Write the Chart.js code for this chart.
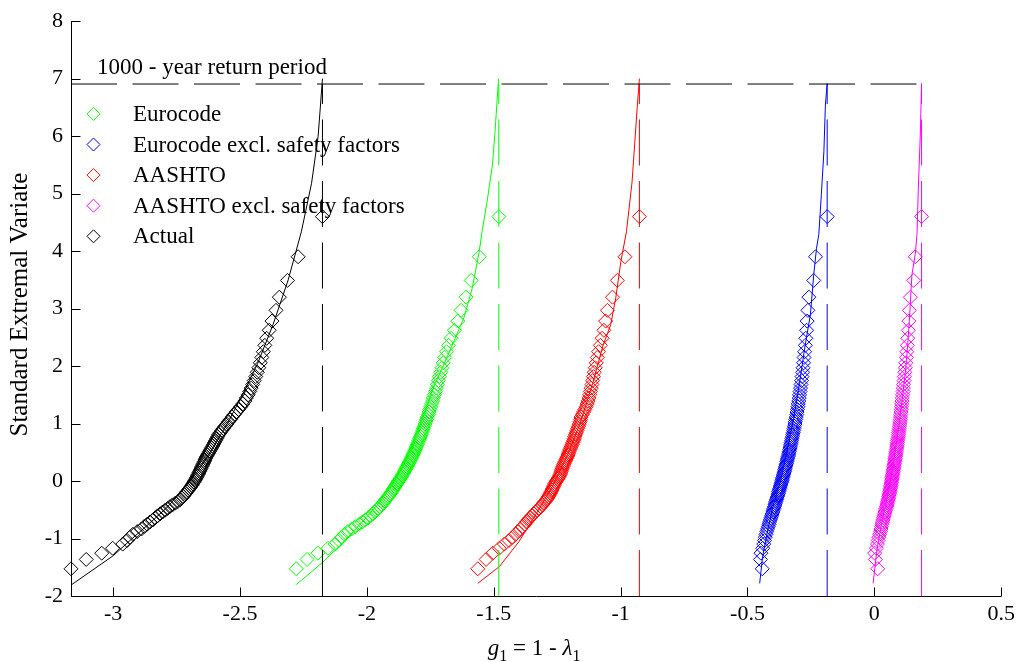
<!DOCTYPE html>
<html>
<head>
<meta charset="utf-8">
<script src="https://cdn.jsdelivr.net/npm/chart.js@4.4.1/dist/chart.umd.min.js"></script>
<style>
  body { margin: 0; background: #fff; }
  #wrap { width: 1020px; height: 662px; }
</style>
</head>
<body>
<div id="wrap"><canvas id="chart" width="1020" height="662"></canvas></div>
<script>
// plotting positions (standard extremal variate) of the 99 ranked values
var reducedVariate = [
  -1.527, -1.364, -1.255, -1.169, -1.097, -1.034, -0.978, -0.927, -0.879, -0.834,
  -0.792, -0.752, -0.713, -0.676, -0.640, -0.606, -0.572, -0.539, -0.507, -0.476,
  -0.445, -0.415, -0.385, -0.356, -0.327, -0.298, -0.270, -0.241, -0.213, -0.186,
  -0.158, -0.131, -0.103, -0.076, -0.049, -0.021, 0.006, 0.033, 0.060, 0.087,
  0.115, 0.142, 0.170, 0.197, 0.225, 0.253, 0.281, 0.309, 0.338, 0.367,
  0.396, 0.425, 0.454, 0.484, 0.514, 0.545, 0.576, 0.607, 0.639, 0.672,
  0.705, 0.738, 0.772, 0.807, 0.842, 0.878, 0.915, 0.953, 0.991, 1.031,
  1.071, 1.113, 1.156, 1.200, 1.246, 1.293, 1.342, 1.392, 1.445, 1.500,
  1.557, 1.617, 1.680, 1.747, 1.817, 1.892, 1.971, 2.057, 2.150, 2.250,
  2.361, 2.484, 2.623, 2.783, 2.970, 3.199, 3.490, 3.902, 4.600
];

var eurocodeX = [
  -2.278, -2.236, -2.193, -2.153, -2.125, -2.110, -2.100, -2.088, -2.075, -2.060,
  -2.045, -2.030, -2.018, -2.006, -1.995, -1.985, -1.977, -1.969, -1.962, -1.955,
  -1.948, -1.942, -1.936, -1.931, -1.926, -1.921, -1.916, -1.911, -1.906, -1.902,
  -1.898, -1.894, -1.890, -1.886, -1.882, -1.878, -1.874, -1.870, -1.866, -1.862,
  -1.858, -1.855, -1.852, -1.848, -1.845, -1.842, -1.838, -1.835, -1.831, -1.828,
  -1.825, -1.822, -1.819, -1.816, -1.813, -1.810, -1.807, -1.804, -1.801, -1.798,
  -1.795, -1.792, -1.789, -1.786, -1.783, -1.780, -1.777, -1.774, -1.771, -1.768,
  -1.765, -1.762, -1.758, -1.755, -1.752, -1.748, -1.745, -1.741, -1.738, -1.734,
  -1.730, -1.726, -1.722, -1.718, -1.714, -1.709, -1.704, -1.699, -1.693, -1.686,
  -1.678, -1.668, -1.655, -1.642, -1.629, -1.609, -1.589, -1.557, -1.480
];

var eurocodeExclX = [
  -0.442, -0.449, -0.447, -0.440, -0.436, -0.433, -0.430, -0.427, -0.424, -0.421,
  -0.418, -0.415, -0.413, -0.410, -0.408, -0.405, -0.403, -0.400, -0.398, -0.396,
  -0.394, -0.392, -0.390, -0.388, -0.386, -0.384, -0.382, -0.380, -0.378, -0.377,
  -0.375, -0.373, -0.371, -0.370, -0.368, -0.366, -0.364, -0.363, -0.361, -0.359,
  -0.358, -0.356, -0.354, -0.353, -0.351, -0.350, -0.348, -0.346, -0.345, -0.343,
  -0.342, -0.340, -0.338, -0.337, -0.335, -0.334, -0.332, -0.331, -0.329, -0.328,
  -0.326, -0.325, -0.323, -0.322, -0.320, -0.318, -0.317, -0.315, -0.313, -0.312,
  -0.310, -0.308, -0.306, -0.305, -0.303, -0.301, -0.300, -0.298, -0.296, -0.295,
  -0.293, -0.291, -0.289, -0.287, -0.285, -0.283, -0.281, -0.279, -0.277, -0.275,
  -0.272, -0.270, -0.267, -0.265, -0.262, -0.258, -0.239, -0.232, -0.186
];

var aashtoX = [
  -1.563, -1.530, -1.504, -1.478, -1.458, -1.440, -1.426, -1.414, -1.404, -1.395,
  -1.386, -1.378, -1.371, -1.364, -1.357, -1.350, -1.342, -1.335, -1.328, -1.321,
  -1.314, -1.309, -1.304, -1.298, -1.292, -1.288, -1.284, -1.280, -1.277, -1.274,
  -1.271, -1.268, -1.265, -1.262, -1.260, -1.256, -1.252, -1.248, -1.244, -1.241,
  -1.238, -1.236, -1.234, -1.232, -1.230, -1.227, -1.225, -1.222, -1.219, -1.216,
  -1.213, -1.210, -1.207, -1.205, -1.203, -1.200, -1.197, -1.194, -1.191, -1.188,
  -1.185, -1.183, -1.181, -1.178, -1.175, -1.172, -1.169, -1.166, -1.163, -1.160,
  -1.158, -1.156, -1.151, -1.146, -1.141, -1.136, -1.132, -1.128, -1.125, -1.122,
  -1.119, -1.116, -1.113, -1.110, -1.107, -1.104, -1.100, -1.096, -1.092, -1.087,
  -1.080, -1.073, -1.066, -1.059, -1.052, -1.032, -1.013, -0.983, -0.926
];

var aashtoExclX = [
  0.013, 0.004, 0.001, 0.008, 0.012, 0.015, 0.018, 0.021, 0.024, 0.026,
  0.028, 0.030, 0.032, 0.034, 0.036, 0.038, 0.040, 0.042, 0.044, 0.046,
  0.048, 0.050, 0.051, 0.053, 0.054, 0.056, 0.057, 0.058, 0.060, 0.061,
  0.062, 0.063, 0.064, 0.065, 0.066, 0.067, 0.068, 0.069, 0.070, 0.071,
  0.072, 0.073, 0.074, 0.075, 0.076, 0.077, 0.078, 0.079, 0.080, 0.081,
  0.082, 0.083, 0.084, 0.085, 0.086, 0.087, 0.088, 0.089, 0.090, 0.091,
  0.092, 0.093, 0.094, 0.095, 0.096, 0.097, 0.098, 0.099, 0.100, 0.101,
  0.102, 0.103, 0.104, 0.105, 0.106, 0.107, 0.108, 0.109, 0.110, 0.111,
  0.113, 0.114, 0.115, 0.117, 0.118, 0.120, 0.122, 0.124, 0.126, 0.128,
  0.130, 0.132, 0.134, 0.136, 0.138, 0.142, 0.155, 0.161, 0.186
];

var actualX = [
  -3.166, -3.106, -3.045, -3.002, -2.962, -2.945, -2.934, -2.922, -2.905, -2.888,
  -2.878, -2.866, -2.855, -2.843, -2.834, -2.825, -2.815, -2.805, -2.795, -2.785,
  -2.776, -2.766, -2.755, -2.745, -2.736, -2.729, -2.724, -2.719, -2.714, -2.709,
  -2.704, -2.699, -2.694, -2.690, -2.686, -2.682, -2.678, -2.675, -2.671, -2.668,
  -2.665, -2.662, -2.659, -2.656, -2.653, -2.650, -2.647, -2.644, -2.641, -2.638,
  -2.635, -2.632, -2.628, -2.624, -2.620, -2.616, -2.612, -2.608, -2.604, -2.600,
  -2.596, -2.592, -2.588, -2.584, -2.578, -2.572, -2.566, -2.559, -2.552, -2.545,
  -2.538, -2.531, -2.523, -2.515, -2.506, -2.497, -2.489, -2.481, -2.475, -2.468,
  -2.462, -2.456, -2.450, -2.444, -2.438, -2.432, -2.426, -2.420, -2.414, -2.408,
  -2.402, -2.395, -2.385, -2.374, -2.358, -2.345, -2.313, -2.271, -2.175
];

// fitted curves, [g1, variate]
var fitEurocode = [[-2.278,-1.80],[-2.173,-1.41],[-2.09,-1.05],[-2.02,-0.72],[-1.96,-0.42],[-1.905,-0.10],
  [-1.86,0.25],[-1.82,0.65],[-1.78,1.10],[-1.74,1.60],[-1.70,2.00],[-1.655,2.45],[-1.617,2.85],
  [-1.585,3.35],[-1.557,4.00],[-1.546,4.34],[-1.525,4.90],[-1.505,5.50],[-1.495,6.08],[-1.481,7.00]];
var fitEurocodeExcl = [[-0.452,-1.78],[-0.44,-1.30],[-0.42,-0.85],[-0.40,-0.45],[-0.37,0.00],[-0.345,0.50],
  [-0.318,1.10],[-0.295,1.70],[-0.275,2.30],[-0.252,2.90],[-0.239,3.59],[-0.228,4.05],[-0.219,4.29],
  [-0.209,4.98],[-0.199,5.73],[-0.193,6.54],[-0.186,6.92]];
var fitAashto = [[-1.563,-1.78],[-1.478,-1.49],[-1.40,-1.05],[-1.33,-0.55],[-1.27,-0.10],[-1.21,0.45],
  [-1.16,1.00],[-1.11,1.70],[-1.07,2.35],[-1.039,2.72],[-1.019,3.19],[-0.999,3.82],[-0.977,4.34],
  [-0.955,5.20],[-0.934,6.54],[-0.926,7.00]];
var fitAashtoExcl = [[-0.005,-1.78],[0.010,-1.20],[0.030,-0.70],[0.055,-0.20],[0.075,0.30],[0.095,0.90],
  [0.112,1.50],[0.127,2.10],[0.138,2.80],[0.148,3.59],[0.161,3.94],[0.168,4.29],[0.174,5.20],
  [0.181,6.02],[0.186,6.92]];
var fitActual = [[-3.166,-1.81],[-3.0,-1.30],[-2.93,-1.02],[-2.86,-0.75],[-2.79,-0.47],[-2.73,-0.18],
  [-2.67,0.15],[-2.61,0.55],[-2.55,1.00],[-2.49,1.50],[-2.43,2.05],[-2.37,2.72],[-2.31,3.50],
  [-2.258,4.34],[-2.218,5.18],[-2.192,6.00],[-2.175,7.00]];

var seriesNames = ['Eurocode', 'Eurocode excl. safety factors', 'AASHTO', 'AASHTO excl. safety factors', 'Actual'];
var seriesColors = ['#00ff00', '#0000ff', '#ff0000', '#ff00ff', '#000000'];
var seriesX = [eurocodeX, eurocodeExclX, aashtoX, aashtoExclX, actualX];
var seriesFit = [fitEurocode, fitEurocodeExcl, fitAashto, fitAashtoExcl, fitActual];
// g1 at the 1000-year return level for each series
var designX = [-1.480, -0.186, -0.926, 0.186, -2.175];
var returnLevel = 6.907;
var returnLabel = '1000 - year return period';

var xMin = -3.166, xMax = 0.5, yMin = -2, yMax = 8;
var xTicks = [-3, -2.5, -2, -1.5, -1, -0.5, 0, 0.5];
var yTicks = [-2, -1, 0, 1, 2, 3, 4, 5, 6, 7, 8];

var serif = "'Liberation Serif', 'Times New Roman', serif";

var datasets = [];
// return period markers: horizontal line then vertical lines (drawn bottom to top)
datasets.push({
    data: [{x: xMin, y: returnLevel}, {x: designX[3], y: returnLevel}],
    showLine: true, pointRadius: 0, borderColor: '#000', borderWidth: 1, borderDash: [46, 15.5]
});
for (var i = 0; i < seriesNames.length; i++) {
    datasets.push({
        data: [{x: designX[i], y: yMin}, {x: designX[i], y: returnLevel}],
        showLine: true, pointRadius: 0, borderColor: seriesColors[i], borderWidth: 1, borderDash: [46, 15.5]
    });
}
for (var i = 0; i < seriesNames.length; i++) {
    var pts = [];
    for (var k = 0; k < seriesX[i].length; k++) pts.push({x: seriesX[i][k], y: reducedVariate[k]});
    datasets.push({
        label: seriesNames[i],
        data: pts,
        showLine: false,
        pointStyle: 'rectRot',
        pointRadius: 7,
        pointBorderWidth: 1,
        pointBorderColor: seriesColors[i],
        pointBackgroundColor: 'rgba(0,0,0,0)',
        clip: false
    });
    datasets.push({
        data: seriesFit[i].map(function(p){ return {x: p[0], y: p[1]}; }),
        showLine: true, pointRadius: 0, borderColor: seriesColors[i], borderWidth: 1, tension: 0
    });
}

// axes lines, inward ticks, legend, labels
var decor = {
    id: 'decor',
    afterDraw: function(chart) {
        var ctx = chart.ctx, a = chart.chartArea, xs = chart.scales.x, ys = chart.scales.y;
        ctx.save();
        ctx.strokeStyle = '#000';
        ctx.lineWidth = 1;
        ctx.beginPath();
        var lx = Math.round(a.left) + 0.5, by = Math.round(a.bottom) + 0.5;
        ctx.moveTo(lx, a.top);
        ctx.lineTo(lx, by);
        ctx.lineTo(a.right, by);
        yTicks.forEach(function(v){
            var p = Math.round(ys.getPixelForValue(v)) + 0.5;
            ctx.moveTo(lx, p); ctx.lineTo(lx + 9, p);
        });
        xTicks.forEach(function(v){
            var p = Math.round(xs.getPixelForValue(v)) + 0.5;
            ctx.moveTo(p, by); ctx.lineTo(p, by - 9);
        });
        ctx.stroke();

        // legend
        ctx.font = '23px ' + serif;
        ctx.fillStyle = '#000';
        ctx.textBaseline = 'middle';
        ctx.textAlign = 'left';
        for (var i = 0; i < seriesNames.length; i++) {
            var cy = a.top + 92.7 + i * 30.6, cx = a.left + 22.5, r = 6.5;
            ctx.strokeStyle = seriesColors[i];
            ctx.beginPath();
            ctx.moveTo(cx - r, cy); ctx.lineTo(cx, cy - r); ctx.lineTo(cx + r, cy); ctx.lineTo(cx, cy + r);
            ctx.closePath();
            ctx.stroke();
            ctx.fillText(seriesNames[i], a.left + 62, cy + 1);
        }

        // return period label
        ctx.textBaseline = 'alphabetic';
        ctx.fillText(returnLabel, a.left + 26, ys.getPixelForValue(returnLevel) - 10);

        // y title
        ctx.save();
        ctx.translate(20, (a.top + a.bottom) / 2 - 4);
        ctx.rotate(-Math.PI / 2);
        ctx.font = '25px ' + serif;
        ctx.textAlign = 'center';
        ctx.textBaseline = 'middle';
        ctx.fillText('Standard Extremal Variate', 0, 0);
        ctx.restore();

        // x title: g1 = 1 - lambda1
        var parts = [
            {t: 'g', f: 'italic 23px ' + serif, dy: 0},
            {t: '1', f: '16px ' + serif, dy: 6},
            {t: ' = 1 - ', f: '23px ' + serif, dy: 0},
            {t: '\u03bb', f: 'italic 23px ' + serif, dy: 0},
            {t: '1', f: '16px ' + serif, dy: 6}
        ];
        var total = 0;
        parts.forEach(function(p){ ctx.font = p.f; p.w = ctx.measureText(p.t).width; total += p.w; });
        var x0 = (a.left + a.right) / 2 - total / 2 - 2, base = 655;
        ctx.textAlign = 'left';
        parts.forEach(function(p){ ctx.font = p.f; ctx.fillText(p.t, x0, base + p.dy); x0 += p.w; });
        ctx.restore();
    }
};

var ctx = document.getElementById('chart').getContext('2d');
var myChart = new Chart(ctx, {
    type: 'scatter',
    data: { datasets: datasets },
    options: {
        responsive: false,
        animation: false,
        events: [],
        layout: { padding: { left: 0, top: 19, right: 17, bottom: 0 } },
        plugins: { legend: { display: false }, tooltip: { enabled: false } },
        scales: {
            x: {
                type: 'linear', min: xMin, max: xMax,
                afterBuildTicks: function(s){ s.ticks = xTicks.map(function(v){ return {value: v}; }); },
                afterFit: function(s){ s.height = 66; },
                grid: { display: false, drawTicks: false },
                border: { display: false },
                ticks: { color: '#000', font: { family: serif, size: 22 }, padding: 5, autoSkip: false, maxRotation: 0,
                         callback: function(v){ return String(v); } }
            },
            y: {
                type: 'linear', min: yMin, max: yMax,
                afterBuildTicks: function(s){ s.ticks = yTicks.map(function(v){ return {value: v}; }); },
                afterFit: function(s){ s.width = 71; },
                grid: { display: false, drawTicks: false },
                border: { display: false },
                ticks: { color: '#000', font: { family: serif, size: 22 }, padding: 8, autoSkip: false,
                         callback: function(v){ return String(v); } }
            }
        }
    },
    plugins: [decor]
});
</script>
</body>
</html>
